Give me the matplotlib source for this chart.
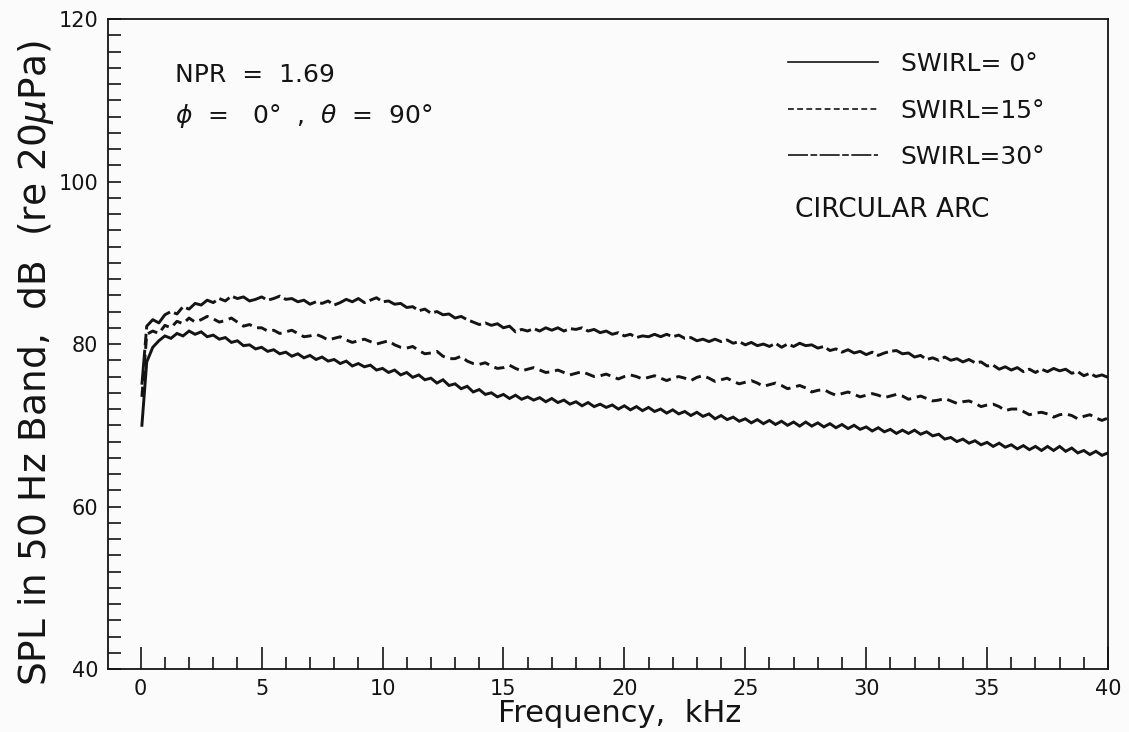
import numpy as np
import matplotlib
matplotlib.use("Agg")
import matplotlib.pyplot as plt
from matplotlib.lines import Line2D
from matplotlib.ticker import FixedLocator, MultipleLocator

# ---- data, frequency in kHz ----
freq = np.arange(0, 40.001, 0.25)
freq[0] = 0.05

swirl_0 = [70.0,
    77.8, 79.6, 80.4, 81.0, 80.7, 81.3, 81.0, 81.6,
    81.2, 81.5, 80.9, 81.1, 80.6, 80.8, 80.2, 80.4,
    79.8, 79.9, 79.4, 79.6, 79.1, 79.3, 78.8, 79.0,
    78.5, 78.8, 78.3, 78.6, 78.1, 78.4, 77.9, 78.1,
    77.6, 77.9, 77.3, 77.6, 77.2, 77.4, 76.8, 77.0,
    76.5, 76.8, 76.2, 76.5, 75.9, 76.2, 75.6, 75.8,
    75.2, 75.6, 74.9, 75.1, 74.5, 74.8, 74.1, 74.4,
    73.8, 74.0, 73.5, 73.8, 73.3, 73.7, 73.2, 73.5,
    73.1, 73.4, 72.9, 73.3, 72.8, 73.1, 72.6, 72.9,
    72.4, 72.8, 72.3, 72.6, 72.2, 72.5, 72.0, 72.4,
    71.9, 72.3, 71.8, 72.2, 71.7, 72.0, 71.5, 71.9,
    71.4, 71.7, 71.2, 71.6, 71.1, 71.4, 70.8, 71.2,
    70.7, 71.0, 70.5, 70.8, 70.3, 70.7, 70.2, 70.6,
    70.1, 70.5, 70.0, 70.4, 69.9, 70.4, 69.9, 70.3,
    69.8, 70.2, 69.7, 70.1, 69.6, 70.0, 69.5, 69.8,
    69.3, 69.7, 69.2, 69.5, 69.0, 69.4, 69.0, 69.4,
    68.9, 69.2, 68.7, 68.9, 68.3, 68.5, 68.0, 68.3,
    67.8, 68.1, 67.6, 67.9, 67.4, 67.8, 67.3, 67.6,
    67.1, 67.5, 67.0, 67.4, 66.9, 67.4, 66.9, 67.4,
    66.8, 67.2, 66.6, 66.9, 66.4, 66.8, 66.3, 66.6]

swirl_15 = [73.5,
    81.2, 81.6, 81.3, 82.3, 82.0, 82.8, 82.5, 83.2,
    82.7, 83.0, 83.4, 83.1, 82.7, 82.9, 83.2, 82.7,
    82.2, 82.4, 82.0, 82.0, 81.6, 81.7, 81.3, 81.5,
    81.7, 81.3, 80.9, 81.0, 81.2, 80.9, 80.5, 80.7,
    80.9, 80.5, 80.2, 80.4, 80.6, 80.3, 80.0, 80.2,
    80.4, 79.9, 79.6, 79.5, 79.7, 79.2, 78.8, 78.9,
    79.1, 78.5, 78.2, 78.2, 78.5, 77.9, 77.6, 77.5,
    77.7, 77.3, 77.0, 77.1, 77.4, 77.0, 76.7, 76.9,
    77.1, 76.8, 76.5, 76.6, 76.8, 76.5, 76.2, 76.4,
    76.6, 76.3, 76.0, 76.1, 76.3, 76.0, 75.7, 76.0,
    76.2, 76.0, 75.7, 75.9, 76.1, 75.8, 75.5, 75.8,
    76.0, 75.8, 75.5, 75.9, 76.1, 75.8, 75.4, 75.6,
    75.8, 75.4, 75.1, 75.3, 75.5, 75.2, 74.8, 75.0,
    75.2, 74.9, 74.5, 74.7, 74.9, 74.6, 74.1, 74.3,
    74.4, 74.0, 73.7, 73.9, 74.1, 73.8, 73.5, 73.7,
    73.9, 73.7, 73.4, 73.6, 73.8, 73.6, 73.2, 73.4,
    73.6, 73.3, 73.0, 73.1, 73.3, 73.0, 72.7, 72.9,
    73.0, 72.7, 72.3, 72.5, 72.6, 72.3, 71.8, 72.0,
    72.0, 71.7, 71.3, 71.5, 71.6, 71.4, 71.0, 71.3,
    71.4, 71.2, 70.8, 71.1, 71.3, 70.9, 70.6, 70.9]

swirl_30 = [75.0,
    82.2, 83.0, 82.6, 83.6, 84.0, 83.7, 84.6, 84.3,
    85.0, 84.8, 85.4, 85.1, 85.6, 85.3, 85.9, 85.6,
    85.8, 85.3, 85.5, 85.8, 85.4, 85.6, 85.9, 85.5,
    85.6, 85.2, 85.4, 84.9, 85.2, 85.0, 85.3, 84.8,
    85.1, 85.5, 85.2, 85.6, 85.1, 85.4, 85.7, 85.2,
    85.3, 84.9, 85.0, 84.5, 84.6, 84.1, 84.3, 83.8,
    84.0, 83.6, 83.7, 83.2, 83.4, 83.0, 82.7, 82.4,
    82.6, 82.3, 82.5, 82.0, 82.2, 81.5, 81.8, 81.6,
    81.9, 81.6, 82.0, 81.7, 82.0, 81.6, 81.9, 81.8,
    82.0, 81.6, 81.8, 81.4, 81.6, 81.2, 81.4, 81.0,
    81.2, 80.8, 81.0, 80.9, 81.2, 80.9, 81.2, 80.9,
    81.1, 80.7, 80.8, 80.4, 80.6, 80.3, 80.6, 80.3,
    80.5, 80.1, 80.3, 79.9, 80.2, 79.8, 80.0, 79.7,
    80.1, 79.6, 80.0, 79.7, 80.1, 79.8, 79.9, 79.5,
    79.7, 79.2, 79.4, 79.0, 79.3, 78.9, 79.1, 78.7,
    79.0, 78.6, 78.9, 79.1, 79.2, 78.8, 78.9, 78.4,
    78.6, 78.1, 78.3, 78.0, 78.4, 78.0, 78.2, 77.8,
    78.1, 77.7, 77.8, 77.3, 77.4, 76.9, 77.2, 76.8,
    77.1, 76.6, 76.9, 76.5, 76.9, 76.6, 77.0, 76.7,
    76.9, 76.4, 76.6, 76.1, 76.4, 76.0, 76.2, 75.9]

labels = ["SWIRL= 0°", "SWIRL=15°", "SWIRL=30°"]
x_ticks = [0, 5, 10, 15, 20, 25, 30, 35, 40]
x_minor = [m for m in range(1, 40) if m % 5 != 0]
y_ticks = [40, 60, 80, 100, 120]

# ---- figure ----
plt.rcParams["font.family"] = ["DejaVu Sans"]
fig = plt.figure(figsize=(11.29, 7.32), dpi=100, facecolor="#fbfbfb")
ax = fig.add_axes([0.0957, 0.086, 0.8857, 0.888])
ax.set_facecolor("#fbfbfb")

ink = "#141414"
styles = [dict(linestyle="-"),
          dict(linestyle=(0, (3.5, 2.0))),
          dict(linestyle=(0, (12, 1.5, 4, 1.5)))]
for ys, st in zip([swirl_0, swirl_15, swirl_30], styles):
    ax.plot(freq, ys, color=ink, lw=2.1, solid_joinstyle="miter", **st)

ax.set_xlim(-1.35, 40)
ax.set_ylim(40, 120)
ax.set_xticks(x_ticks)
ax.set_yticks(y_ticks)
ax.xaxis.set_minor_locator(FixedLocator(x_minor))
ax.yaxis.set_minor_locator(MultipleLocator(2))
ax.tick_params(axis="x", which="major", direction="in", length=16, width=1.2,
               labelsize=15, pad=7, colors=ink)
ax.tick_params(axis="x", which="minor", direction="in", length=8.5, width=1.2, colors=ink)
ax.tick_params(axis="y", which="both", direction="in", length=9, width=1.2,
               labelsize=15, pad=7, colors=ink)
for s in ax.spines.values():
    s.set_linewidth(1.3)
    s.set_color(ink)

ax.set_xlabel("Frequency,  kHz", fontsize=22, color=ink)
ax.xaxis.set_label_coords(0.512, -0.046)
ax.set_ylabel(r"SPL in 50 Hz Band,  dB  (re 20$\mu$Pa)", fontsize=27, color=ink)
ax.yaxis.set_label_coords(-0.052, 0.47)

ax.text(0.067, 0.914, "NPR  =  1.69", transform=ax.transAxes, fontsize=18,
        va="center", ha="left", color=ink)
ax.text(0.067, 0.851, r"$\phi$  =   0°  ,  $\theta$  =  90°", transform=ax.transAxes,
        fontsize=18, va="center", ha="left", color=ink)

handles = [Line2D([], [], color=ink, lw=1.2, **st) for st in styles]
leg = ax.legend(handles, labels, loc="upper left", bbox_to_anchor=(0.68, 0.949),
                frameon=False, fontsize=18, handlelength=3.6, handletextpad=0.9,
                labelspacing=0.9, borderpad=0, borderaxespad=0)
for t in leg.get_texts():
    t.set_color(ink)
ax.text(0.687, 0.706, "CIRCULAR ARC", transform=ax.transAxes, fontsize=19,
        va="center", ha="left", color=ink)

fig.savefig("out.png", dpi=100, facecolor=fig.get_facecolor())
